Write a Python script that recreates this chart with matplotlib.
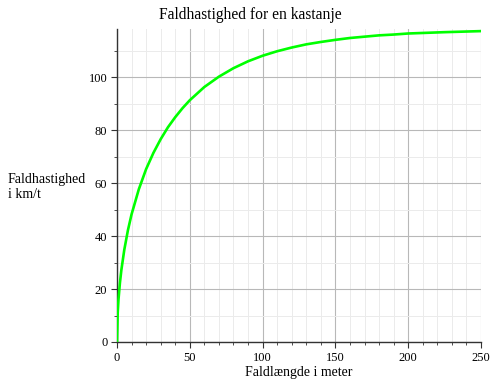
import numpy as np
import matplotlib
matplotlib.use("Agg")
import matplotlib.pyplot as plt
from matplotlib.ticker import MultipleLocator

faldlaengde = [0, 0.5, 1, 2, 3, 5, 7.5, 10, 15, 20, 25, 30, 35, 40, 45, 50, 60,
               70, 80, 90, 100, 110, 120, 130, 140, 150, 160, 170, 180, 190,
               200, 225, 250]
hastighed = [0, 11.2, 15.9, 22.3, 27.2, 34.8, 42.2, 48.2, 57.7, 65.3, 71.4,
             76.6, 81.1, 84.9, 88.3, 91.3, 96.3, 100.2, 103.4, 106.0, 108.1,
             109.8, 111.2, 112.4, 113.3, 114.1, 114.8, 115.3, 115.8, 116.1,
             116.5, 117.0, 117.4]

plt.rcParams['font.family'] = ['Liberation Serif', 'DejaVu Serif']

fig = plt.figure(figsize=(5, 3.85), dpi=100)
ax = fig.add_axes([0.234, 0.1117, 0.728, 0.813])

ax.plot(faldlaengde, hastighed, color='#00ff00', lw=1.9, zorder=3)

ax.set_xlim(0, 250)
ax.set_ylim(0, 118.2)
ax.xaxis.set_major_locator(MultipleLocator(50))
ax.xaxis.set_minor_locator(MultipleLocator(10))
ax.yaxis.set_major_locator(MultipleLocator(20))
ax.yaxis.set_minor_locator(MultipleLocator(10))

ax.grid(which='major', color='#b8b8b8', lw=0.8)
ax.grid(which='minor', color='#ebebeb', lw=0.7)
ax.set_axisbelow(True)

for s in ['top', 'right']:
    ax.spines[s].set_visible(False)
for s in ['left', 'bottom']:
    ax.spines[s].set_color('#333333')
    ax.spines[s].set_linewidth(1.0)

ax.tick_params(which='major', length=4, width=0.8, labelsize=9, color='#333333', pad=3)
ax.tick_params(which='minor', length=2.5, width=0.6, color='#333333')

fig.text(0.5, 0.961, 'Faldhastighed for en kastanje', fontsize=11.2,
         ha='center', va='center')
ax.set_xlabel('Faldlængde i meter', fontsize=10, labelpad=2)
fig.text(0.016, 0.515, 'Faldhastighed\ni km/t', fontsize=10, ha='left', va='center',
         linespacing=1.2)

fig.savefig('out.png', dpi=100)
